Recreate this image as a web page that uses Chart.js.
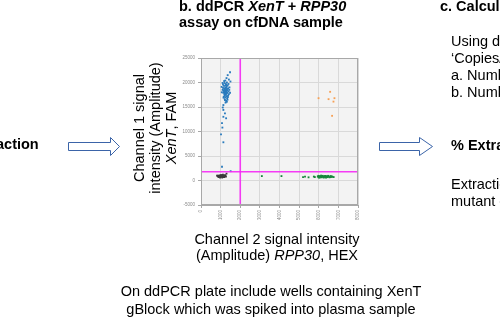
<!DOCTYPE html>
<html>
<head>
<meta charset="utf-8">
<script src="https://cdn.jsdelivr.net/npm/chart.js@4"></script>
<style>
  html, body { margin: 0; padding: 0; background: #fff; }
  body { width: 500px; height: 319px; position: relative; overflow: hidden; font-family: "Liberation Sans", Arial, sans-serif; color: #000; }
  #chart { position: absolute; left: 0; top: 0; }
  .t { position: absolute; white-space: nowrap; font-size: 14.5px; line-height: 17px; }
  .b { font-weight: bold; }
  .c { text-align: center; transform: translateX(-50%); }
  #ytitle { position: absolute; left: 155px; top: 128px; width: 220px; text-align: center; font-size: 14.5px; line-height: 16px;
            transform: translate(-50%, -50%) rotate(-90deg); white-space: nowrap; }
  svg { position: absolute; left: 0; top: 0; }
</style>
</head>
<body>
<canvas id="chart" width="500" height="319"></canvas>

<div class="t b" style="left:179px; top:-2px; line-height:16px">b. ddPCR <i>XenT</i> + <i>RPP30</i><br>assay on cfDNA sample</div>
<div class="t b" style="left:440px; top:-2px">c. Calculation</div>
<div class="t" style="left:451px; top:33px">Using ddPCR<br>‘Copies/µL’<br>a. Number<br>b. Number</div>
<div class="t b" style="left:451px; top:137px">% Extraction</div>
<div class="t" style="left:451px; top:176px">Extraction<br>mutant copies</div>
<div class="t b" style="left:-4px; top:136px">action</div>

<div id="ytitle">Channel 1 signal<br>intensity (Amplitude)<br><i>XenT</i>, FAM</div>
<div class="t c" style="left:277px; top:231px; line-height:16px">Channel 2 signal intensity<br>(Amplitude) <i>RPP30</i>, HEX</div>
<div class="t c" style="left:271px; top:282px; line-height:18px">On ddPCR plate include wells containing XenT<br>gBlock which was spiked into plasma sample</div>

<svg width="500" height="319">
  <polygon points="68.5,142.5 110.5,142.5 110.5,137.5 119.5,146.5 110.5,155.5 110.5,150.5 68.5,150.5" fill="#fff" stroke="#3b64a8" stroke-width="1"/>
  <polygon points="379.5,142.5 419.5,142.5 419.5,137.5 432.5,146.5 419.5,155.5 419.5,150.5 379.5,150.5" fill="#fff" stroke="#3b64a8" stroke-width="1"/>
</svg>

<script>
// droplet amplitudes: [channel 2 (HEX), channel 1 (FAM)]
const famPositive = [
  [1480,22100],[1360,21500],[1300,20900],[1420,20600],[1180,20300],[1500,20200],[1100,19900],
  [1250,18300],[1220,18500],[1280,18100],[1300,18600],[1200,18000],[1260,17800],[1330,18400],
  [1180,18700],[1240,19000],[1310,19200],[1150,18300],[1270,17500],[1350,17900],[1210,17300],
  [1290,19500],[1380,18800],[1120,18900],[1230,18800],[1190,17600],[1320,17200],[1260,19700],
  [1400,18200],[1140,17900],[1360,19400],[1170,19300],[1300,17700],[1240,17000],[1420,17600],
  [1100,18500],[1280,18900],[1330,16800],[1210,16600],[1380,17300],[1160,17100],[1450,19000],
  [1250,19400],[1050,19100],[1310,18000],[1270,18400],[1230,18200],[1290,17900],[1200,18600],
  [1340,18700],[1260,18000],[1220,17800],[1180,18200],[1400,19700],[1280,16300],[1350,16500],
  [1150,16900],[1480,17900],[1120,19600],[1320,20000],[1240,20400],[1440,18500],[1060,18000],
  [1370,17000],[1200,19900],[1300,16100],[1250,15900],
  [1220,16400],[1140,15400],[1310,16100],
  [1110,14900],[1140,14400],[1220,13700],[1140,13000],[1280,12700],[1070,11700],[1090,10800],
  [1020,9400],[1140,7800],[1070,2800],[1510,1900]
];
const doublePositive = [
  [6580,18100],[5990,16800],[6500,16600],[6800,16800],[6750,16100],[6680,13200]
];
const negative = [
  [850,900],[900,1000],[950,800],[1000,900],[1050,1100],[1100,800],[1150,950],[1200,850],
  [1250,1000],[900,700],[1000,700],[1080,600],[1120,1200],[1000,1100],[950,1000],[1050,850],
  [1180,700],[1300,1400],[880,800],[1020,950],[1130,900],[970,600],[1070,1000],[1220,1100],
  [1150,700],[820,1000],[1270,800],[1000,850],[1100,950],[940,900]
];
const hexPositive = [
  [3100,900],[4100,900],[5200,700],[5300,800],[5480,650],[5750,800],[5800,700],[5950,800],
  [6000,700],[6030,900],[6080,750],[6100,850],[6140,650],[6180,800],[6200,950],[6230,700],
  [6260,850],[6300,750],[6340,650],[6370,900],[6400,800],[6430,700],[6460,850],[6500,750],
  [6550,650],[6590,800],[6620,700],[6660,850],[6700,750],[6760,700],[6000,600],[6120,1000],
  [6250,600],[6380,600],[6480,950],[5980,950],[6050,600],[6150,900],[6320,950],[6600,900]
];

const famThreshold = 1800;
const hexThreshold = 2000;
const xRange = [0, 8000];
const yRange = [-5000, 25000];

function toPoints(arr) {
  return arr.map(p => ({ x: p[0], y: p[1] }));
}

function dropletSet(arr, color) {
  return {
    data: toPoints(arr),
    backgroundColor: color,
    borderWidth: 0,
    pointStyle: 'rect',
    pointRadius: 1.3
  };
}

// grey plot background + frame
const plotFrame = {
  id: 'plotFrame',
  beforeDraw(chart) {
    const a = chart.chartArea, ctx = chart.ctx;
    ctx.save();
    ctx.fillStyle = '#f3f3f3';
    ctx.fillRect(a.left, a.top, a.right - a.left, a.bottom - a.top);
    ctx.restore();
  },
  afterDraw(chart) {
    const a = chart.chartArea, ctx = chart.ctx;
    ctx.save();
    ctx.strokeStyle = '#a8a8a8';
    ctx.lineWidth = 1;
    ctx.strokeRect(a.left + 0.5, a.top + 0.5, a.right - a.left - 1, a.bottom - a.top - 1);
    ctx.restore();
  }
};

new Chart(document.getElementById('chart'), {
  type: 'scatter',
  data: {
    datasets: [
      {
        data: [{ x: hexThreshold, y: yRange[0] }, { x: hexThreshold, y: yRange[1] }],
        showLine: true, borderColor: 'rgba(245,40,245,0.9)', borderWidth: 1.6, pointRadius: 0
      },
      {
        data: [{ x: xRange[0], y: famThreshold }, { x: xRange[1], y: famThreshold }],
        showLine: true, borderColor: 'rgba(245,40,245,0.9)', borderWidth: 1.6, pointRadius: 0
      },
      dropletSet(negative, '#3a3a3a'),
      dropletSet(hexPositive, '#17873a'),
      dropletSet(famPositive, '#2a7bbd'),
      dropletSet(doublePositive, '#f7a055')
    ]
  },
  options: {
    responsive: false,
    animation: false,
    layout: { padding: { left: 170, top: 58, right: 142, bottom: 94 } },
    plugins: { legend: { display: false }, tooltip: { enabled: false } },
    scales: {
      x: {
        type: 'linear',
        min: xRange[0], max: xRange[1],
        afterFit: s => { s.height = 20; },
        grid: { color: '#d9d9d9', tickLength: 3, tickColor: '#a8a8a8' },
        border: { color: '#a8a8a8' },
        ticks: {
          stepSize: 1000, minRotation: 90, maxRotation: 90, padding: 2,
          color: '#8a8a8a', font: { size: 4.5 },
          callback: v => String(v)
        }
      },
      y: {
        type: 'linear',
        min: yRange[0], max: yRange[1],
        afterFit: s => { s.width = 31; },
        grid: { color: '#d9d9d9', tickLength: 3, tickColor: '#a8a8a8' },
        border: { color: '#a8a8a8' },
        ticks: {
          stepSize: 5000, padding: 3,
          color: '#8a8a8a', font: { size: 4.5 },
          callback: v => String(v)
        }
      }
    }
  },
  plugins: [plotFrame]
});
</script>
</body>
</html>
